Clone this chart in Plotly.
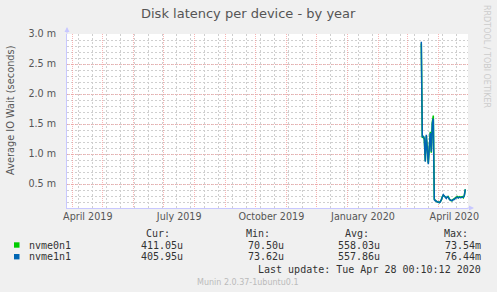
import pandas as pd
import plotly.graph_objects as go

# ---------------- data (milliseconds) ----------------
dates = pd.date_range("2020-03-15", "2020-04-28", freq="D")
nvme0n1 = [2.84, 1.27, 1.30, 1.24, 0.89, 1.30, 1.10, 0.85, 1.10, 1.37, 1.02, 1.53, 1.64,
           0.25, 0.23, 0.21, 0.20,
           0.20, 0.19, 0.21, 0.23, 0.29, 0.31, 0.30, 0.28, 0.27, 0.28, 0.29, 0.25, 0.24,
           0.22, 0.23, 0.24, 0.25, 0.26, 0.27, 0.29, 0.27, 0.29, 0.28, 0.28, 0.29, 0.27,
           0.31, 0.41]
nvme1n1 = [2.87, 1.29, 1.29, 1.26, 0.87, 1.32, 1.08, 0.83, 1.12, 1.35, 1.04, 1.51, 1.59,
           0.24, 0.22, 0.21, 0.20,
           0.19, 0.19, 0.20, 0.23, 0.28, 0.32, 0.30, 0.29, 0.26, 0.29, 0.28, 0.25, 0.23,
           0.23, 0.22, 0.24, 0.24, 0.26, 0.27, 0.28, 0.27, 0.28, 0.27, 0.28, 0.28, 0.28,
           0.30, 0.41]

series_names = ["nvme0n1", "nvme1n1"]
series_colors = ["#00cc00", "#0066b3"]
cur = ["411.05u", "405.95u"]
mins = ["70.50u", "73.62u"]
avgs = ["558.03u", "557.86u"]
maxs = ["73.54m", "76.44m"]

y_ticks = [0.5, 1.0, 1.5, 2.0, 2.5, 3.0]
y_ticktext = ["0.5 m", "1.0 m", "1.5 m", "2.0 m", "2.5 m", "3.0 m"]
x_label_dates = ["2019-04-16 12:00", "2019-07-16 22:00", "2019-10-17", "2020-01-16 16:00", "2020-04-17"]
x_label_text = ["April 2019", "July 2019", "October 2019", "January 2020", "April 2020"]

title = "Disk latency per device - by year"
y_title = "Average IO Wait (seconds)"
last_update = "Last update: Tue Apr 28 00:10:12 2020"
footer = "Munin 2.0.37-1ubuntu0.1"
side = "RRDTOOL / TOBI OETIKER"

# ---------------- layout geometry ----------------
W, H = 497, 292
L, R, T, B = 67, 29, 34, 84
PW, PH = W - L - R, H - T - B
x_range = ["2019-03-26 16:48", "2020-04-30 16:48"]
y_range = [0.1, 3.0]


def px(x):
    return (x - L) / PW


def py(y):
    return (H - B - y) / PH


fig = go.Figure()
# nvme0n1 first, nvme1n1 drawn on top
for name, vals, col in zip(series_names, [nvme0n1, nvme1n1], series_colors):
    fig.add_trace(go.Scatter(x=dates, y=vals, mode="lines", name=name,
                             line=dict(color=col, width=1.5), showlegend=False,
                             hoverinfo="skip"))
# helper trace to carry the label axis
fig.add_trace(go.Scatter(x=[x_range[0]], y=[None], xaxis="x2", mode="lines",
                         showlegend=False, hoverinfo="skip"))

RED = "rgba(245,150,150,0.7)"
GRAY = "#cfcfcf"
AX = "#c8c8ff"
TXT = "#555555"

fig.update_layout(
    width=W, height=H,
    margin=dict(l=L, r=R, t=T, b=B),
    paper_bgcolor="#f0f0f0", plot_bgcolor="#ffffff",
    font=dict(family="DejaVu Sans", size=10, color=TXT),
    xaxis=dict(type="date", range=x_range, tickmode="linear", tick0="2019-04-01",
               dtick="M1", showticklabels=False, ticks="",
               showgrid=True, gridcolor=RED, griddash="1px,1px", gridwidth=1,
               minor=dict(tick0="2019-04-07", dtick=14 * 86400000, showgrid=True,
                          gridcolor=GRAY, griddash="2px,2px", gridwidth=1),
               showline=True, linecolor=AX, linewidth=1, zeroline=False),
    xaxis2=dict(type="date", range=x_range, overlaying="x", anchor="y", side="bottom",
                tickmode="array", tickvals=x_label_dates, ticktext=x_label_text,
                showgrid=False, ticks="", showline=False, zeroline=False,
                tickfont=dict(family="DejaVu Sans", size=9.6, color=TXT),
                ticklabelstandoff=1),
    yaxis=dict(range=y_range, tickmode="array", tickvals=y_ticks, ticktext=y_ticktext,
               showgrid=True, gridcolor=RED, griddash="1px,1px", gridwidth=1,
               minor=dict(tick0=0, dtick=0.1, showgrid=True, gridcolor=GRAY,
                          griddash="2px,2px", gridwidth=1),
               ticks="", ticklabelstandoff=8,
               tickfont=dict(family="DejaVu Sans", size=9.6, color=TXT),
               showline=True, linecolor=AX, linewidth=1, zeroline=False),
)

ann = []
ann.append(dict(text=title, x=px(248.8), y=py(13.3), xref="paper", yref="paper",
                showarrow=False, xanchor="center", yanchor="middle",
                font=dict(family="DejaVu Sans", size=13, color=TXT)))
ann.append(dict(text=y_title, x=px(10), y=py(110), xref="paper", yref="paper",
                showarrow=False, xanchor="center", yanchor="middle", textangle=-90,
                font=dict(family="DejaVu Sans", size=9.8, color=TXT)))
ann.append(dict(text=side, x=px(486), y=py(56), xref="paper", yref="paper",
                showarrow=False, xanchor="center", yanchor="middle", textangle=90,
                font=dict(family="DejaVu Sans", size=8, color="#cccccc")))
# axis arrows
ann.append(dict(x=px(67), y=py(27), xref="paper", yref="paper", ax=0, ay=8,
                axref="pixel", ayref="pixel", text="", showarrow=True,
                arrowhead=2, arrowsize=1, arrowwidth=1, arrowcolor=AX))
ann.append(dict(x=px(474), y=py(208), xref="paper", yref="paper", ax=-8, ay=0,
                axref="pixel", ayref="pixel", text="", showarrow=True,
                arrowhead=2, arrowsize=1, arrowwidth=1, arrowcolor=AX))

MONO = dict(family="DejaVu Sans Mono", size=10, color="#333333")


def txt(s, x, y, anchor="left", font=MONO):
    ann.append(dict(text=s, x=px(x), y=py(y), xref="paper", yref="paper",
                    showarrow=False, xanchor=anchor, yanchor="middle", font=font))


# legend header
txt("Cur:", 171.7, 233.3, "right")
txt("Min:", 271.7, 233.3, "right")
txt("Avg:", 370.7, 233.3, "right")
txt("Max:", 470.0, 233.3, "right")
row_y = [245.0, 256.7]
shapes = []
for i, name in enumerate(series_names):
    yy = row_y[i]
    shapes.append(dict(type="rect", xref="paper", yref="paper",
                       x0=px(14), x1=px(19.5), y0=py(yy + 2.7), y1=py(yy - 2.7),
                       fillcolor=series_colors[i], line=dict(width=0)))
    txt(name, 26.7, yy)
    txt(cur[i], 185.0, yy, "right")
    txt(mins[i], 286.0, yy, "right")
    txt(avgs[i], 382.3, yy, "right")
    txt(maxs[i], 483.3, yy, "right")
txt(last_update, 483.3, 269.0, "right")
txt(footer, 247.5, 282.3, "center", dict(family="DejaVu Sans", size=8, color="#bbbbbb"))

fig.update_layout(annotations=ann, shapes=shapes)
fig.write_html("out.html")
